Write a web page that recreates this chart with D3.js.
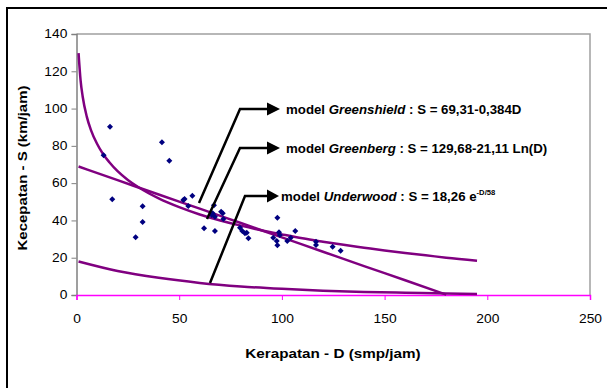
<!DOCTYPE html>
<html><head><meta charset="utf-8">
<script src="https://cdn.jsdelivr.net/npm/d3@7"></script>
<style>body{margin:0;background:#fff}svg{display:block}text{font-family:"Liberation Sans",Arial,sans-serif}</style>
</head><body><svg id="c" width="607" height="388"></svg>
<script>
// observed data points (D, S)
const obsD = [13.2,16.3,17.4,28.8,32.2,32.2,41.6,45.2,52.0,52.6,54.4,56.4,62.1,65.8,66.3,66.9,67.4,67.4,70.4,71.2,71.5,79.6,80.7,82.0,82.9,83.7,95.8,97.5,97.8,97.8,98.6,99.0,102.6,104.3,106.5,116.6,116.6,124.7,128.6];
const obsS = [75,90.3,51.3,31,47.6,39.2,82,72,51,51.5,47.7,53.3,35.8,42.9,43.8,48.1,34.3,42,44.7,43.8,40.8,36.1,34.3,33.1,33.4,30.4,30.7,29,26.7,41.5,33.6,32.2,29,30.7,34.3,28.6,26.8,25.9,23.8];
// model curves
const gbD = [1,2,3,5,7,10,13,16,20,25,30,40,50,60,70,80,90,100,110,120,130,140,150,160,170,180,195];
const gbS = [129.7,115.0,106.5,95.7,88.6,81.1,75.5,71.2,66.4,61.7,57.9,51.8,47.1,43.2,40.0,37.2,34.7,32.5,30.4,28.6,26.9,25.4,23.9,22.5,21.3,20.0,18.4];
const gsD = [1,20,40,60,80,100,120,140,160,180];
const gsS = [68.9,61.6,53.9,46.3,38.6,30.9,23.2,15.5,7.9,0.2];
const uwD = [1,20,40,60,80,100,120,140,160,180,195];
const uwS = [18.0,12.9,9.2,6.5,4.6,3.3,2.3,1.6,1.2,0.8,0.6];
const xTicks = [0,50,100,150,200,250];
const yTicks = [0,20,40,60,80,100,120,140];

const svg = d3.select("#c");
const x = d3.scaleLinear().domain([0,250]).range([76.5,590]);
const y = d3.scaleLinear().domain([0,140]).range([295,34]);

// outer frame
svg.append("rect").attr("x",7).attr("y",8).attr("width",620).attr("height",400)
  .attr("fill","none").attr("stroke","#000").attr("stroke-width",2);

// plot border
svg.append("path").attr("d",`M${x(0)},${y(140)}H${x(250)}V${y(0)}`)
  .attr("fill","none").attr("stroke","#a0a0a0").attr("stroke-width",1.5);

// y axis
const ya = svg.append("g").attr("transform",`translate(${x(0)},0)`)
  .call(d3.axisLeft(y).tickValues(yTicks).tickSize(5).tickPadding(4));
ya.select(".domain").attr("stroke","#808080").attr("stroke-width",1.5);
ya.selectAll(".tick line").attr("stroke","#808080");
ya.selectAll("text").attr("font-size",12).attr("fill","#000").attr("font-family","Liberation Sans, Arial")
  .attr("x",-8).attr("transform","scale(1.15,1)");

// x axis
const xa = svg.append("g").attr("transform",`translate(0,${y(0)})`)
  .call(d3.axisBottom(x).tickValues(xTicks).tickSize(5).tickPadding(14));
xa.select(".domain").attr("stroke","#ff00ff").attr("stroke-width",1.5);
xa.selectAll(".tick line").attr("stroke","#ff00ff");
xa.selectAll("text").attr("font-size",12).attr("fill","#000").attr("font-family","Liberation Sans, Arial")
  .attr("transform","scale(1.15,1)");

// curves
const line = d3.line().x(d=>x(d[0])).y(d=>y(d[1])).curve(d3.curveMonotoneX);
const curves = [[gbD,gbS],[gsD,gsS],[uwD,uwS]];
curves.forEach(([ds,ss])=>{
  svg.append("path").datum(ds.map((d,i)=>[d,ss[i]])).attr("d",line)
    .attr("fill","none").attr("stroke","#800080").attr("stroke-width",2.5);
});

// points
svg.append("g").selectAll("path").data(obsD.map((d,i)=>[d,obsS[i]])).join("path")
  .attr("d",d3.symbol(d3.symbolSquare,18)())
  .attr("transform",d=>`translate(${x(d[0])},${y(d[1])}) rotate(45)`)
  .attr("fill","#000080");

// callouts
const callouts = [
  {from:[199,203], knee:[240,109], base:267, tip:280, tx:286, name:"Greenshield", eq:" : S = 69,31-0,384D", sup:null},
  {from:[207,219], knee:[240,148], base:267, tip:280, tx:286, name:"Greenberg", eq:" : S = 129,68-21,11 Ln(D)", sup:null},
  {from:[210,283], knee:[245,196], base:267, tip:279, tx:281, name:"Underwood", eq:" : S = 18,26 e", sup:"-D/58"}
];
callouts.forEach(c=>{
  svg.append("path").attr("d",`M${c.from[0]},${c.from[1]}L${c.knee[0]},${c.knee[1]}H${c.base}`)
    .attr("fill","none").attr("stroke","#000").attr("stroke-width",2.5);
  svg.append("path").attr("d",`M${c.base},${c.knee[1]-6.5}L${c.tip},${c.knee[1]}L${c.base},${c.knee[1]+6.5}Z`).attr("fill","#000");
  const t = svg.append("text").attr("transform",`translate(${c.tx},${c.knee[1]+4.5}) scale(1.02,1)`)
    .attr("font-size",13).attr("font-weight","bold");
  t.append("tspan").text("model ");
  t.append("tspan").attr("font-style","italic").text(c.name);
  t.append("tspan").text(c.eq);
  if(c.sup) t.append("tspan").attr("font-size",7.5).attr("dy",-6).text(c.sup);
});

// axis titles
svg.append("text").attr("transform",`translate(333,358) scale(1.22,1)`).attr("text-anchor","middle")
  .attr("font-size",12.5).attr("font-weight","bold").text("Kerapatan - D (smp/jam)");
svg.append("text").attr("transform",`translate(27,168) rotate(-90) scale(1.2,1)`).attr("text-anchor","middle")
  .attr("font-size",12.5).attr("font-weight","bold").text("Kecepatan - S (km/jam)");
</script></body></html>
